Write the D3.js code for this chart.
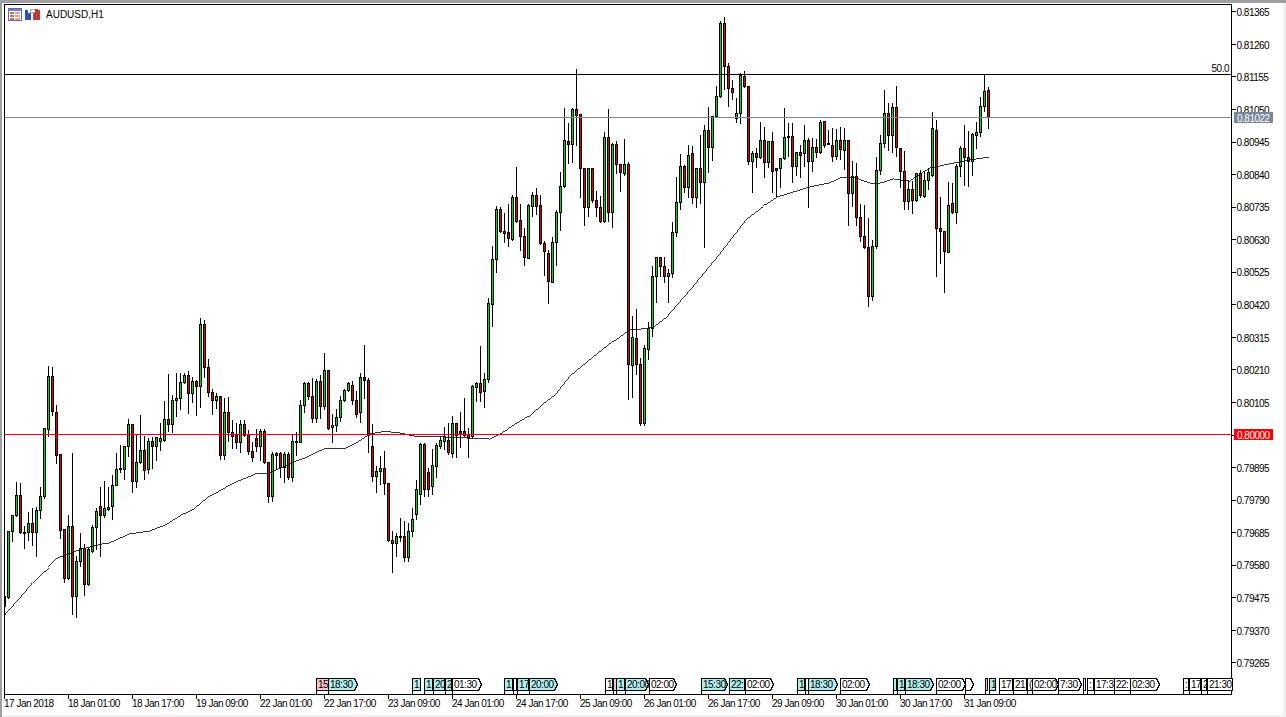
<!DOCTYPE html>
<html>
<head>
  <title>AUDUSD,H1</title>
  <script src="https://d3js.org/d3.v7.min.js"></script>
  <style>
    body { margin: 0; background: #fff; overflow: hidden; }
    text { font-family: "Liberation Sans", sans-serif; font-size: 10px; letter-spacing: -0.5px; fill: #000; }
  </style>
</head>
<body>
  <svg id="chart" width="1286" height="717"></svg>

  <script>
    // Hourly bars, prices in points (1/100000)
    const opens = [
      79445,79475,79688,79740,79804,79684,79684,79713,79684,79756,
      79801,80016,80187,80071,79935,79694,79535,79704,79477,79591,
      79632,79516,79623,79700,79769,79740,79758,79768,79836,79887,
      79888,79962,80032,79848,79910,79948,79887,79977,79962,79977,
      79982,80048,80033,80110,80116,80168,80191,80132,80171,80155,
      80355,80216,80135,80111,80123,79932,80071,80007,79997,79975,
      80032,80000,79945,79987,79962,80010,79910,79801,79939,79939,
      79894,79935,79861,79977,79975,80094,80165,80123,80052,80171,
      80090,80207,80023,80030,80055,80110,80142,80158,80110,80071,
      80184,80175,79961,79865,79882,79890,79842,79659,79648,79671,
      79671,79603,79687,79742,79806,79968,79877,79832,79898,79962,
      79978,79981,79939,80035,80010,80010,80000,79994,80152,80165,
      80140,80177,80419,80565,80726,80655,80652,80629,80765,80690,
      80639,80569,80736,80771,80739,80616,80584,80492,80619,80716,
      80801,80945,80936,81048,81032,80858,80732,80858,80756,80732,
      80687,80959,80716,80936,80871,80842,80871,80223,80310,80226,
      80035,80274,80342,80510,80571,80543,80511,80519,80652,80748,
      80865,80798,80906,80765,80858,80813,80981,80926,81027,81091,
      81328,81188,81116,81019,81035,81155,81124,80882,80906,80894,
      80948,80877,80945,80858,80858,80890,80958,80961,80865,80911,
      80906,80949,80881,80926,80910,81010,80939,80933,80898,80948,
      80917,80948,80777,80833,80700,80640,80604,80446,80607,80852,
      80939,81035,80965,81055,80924,80848,80752,80790,80756,80842,
      80768,80819,80835,80981,80665,80655,80589,80745,80716,80865,
      80923,80894,80882,80965,80974,81058,81111
    ];
    const highs = [
      79477,79690,79742,79848,79845,79707,79752,79765,79768,79832,
      80022,80223,80219,80097,79938,79697,79742,79942,79610,79684,
      79648,79635,79710,79765,79832,79852,79832,79871,79942,79968,
      79965,80052,80035,80000,80065,79997,79990,79994,79994,80039,
      80110,80197,80129,80200,80200,80200,80206,80187,80177,80377,
      80371,80245,80148,80135,80127,80119,80123,80048,80039,80048,
      80048,80016,79977,80019,80019,80019,79913,79946,79946,79946,
      79946,79946,80000,80010,80113,80172,80172,80184,80181,80194,
      80265,80210,80068,80084,80126,80148,80172,80174,80142,80200,
      80290,80184,80035,79900,79932,79948,79845,79690,79684,79732,
      79723,79717,79765,79855,79974,79974,79894,79955,79974,79997,
      80026,80039,80061,80040,80074,80119,80023,80161,80172,80287,
      80200,80442,80610,80739,80736,80717,80745,80774,80865,80745,
      80668,80745,80785,80797,80774,80626,80597,80639,80726,80848,
      81055,81006,81055,81181,81035,80861,80861,80861,80788,80771,
      80978,81052,80942,80948,80874,80955,80882,80384,80406,80248,
      80290,80365,80545,80575,80574,80575,80535,80688,80833,80906,
      80871,80935,80932,80862,80968,81000,81059,81030,81126,81335,
      81349,81201,81145,81087,81168,81174,81127,80916,80926,81010,
      80994,80948,80978,80861,80893,81055,81006,81007,80914,80935,
      81000,80958,80958,80955,81016,81013,80984,80990,80987,80995,
      80990,80951,80884,80877,80745,80742,80700,80629,80897,80968,
      81113,81071,81071,81126,80926,80916,80819,80819,80845,80855,
      80849,80861,81043,81016,80769,80658,80816,80813,80874,80932,
      81000,80981,80974,81011,81091,81165,81123
    ];
    const lows = [
      79445,79471,79655,79738,79681,79632,79658,79642,79606,79729,
      79794,79994,80061,79906,79665,79523,79532,79419,79410,79574,
      79481,79513,79620,79629,79606,79732,79756,79726,79835,79877,
      79855,79929,79813,79829,79907,79855,79874,79890,79916,79948,
      79980,80010,80006,80058,80081,80165,80068,80103,80061,80087,
      80184,80124,80065,80084,79919,79919,79978,79955,79955,79943,
      79994,79935,79914,79946,79917,79906,79782,79785,79887,79861,
      79845,79855,79849,79932,79974,80071,80113,80039,80039,80052,
      80081,80016,79974,80011,80043,80106,80139,80097,80055,80039,
      80116,79942,79849,79814,79839,79806,79656,79556,79607,79656,
      79591,79591,79671,79726,79774,79800,79800,79806,79861,79956,
      79952,79935,79926,79927,79958,79994,79927,79990,80107,80107,
      80088,80168,80349,80524,80652,80620,80607,80626,80685,80595,
      80546,80568,80704,80710,80613,80514,80423,80490,80546,80659,
      80799,80874,80877,80932,80765,80675,80704,80748,80704,80685,
      80684,80687,80669,80842,80785,80836,80113,80119,80194,80029,
      80029,80242,80316,80427,80511,80490,80427,80506,80640,80726,
      80781,80766,80745,80733,80745,80604,80845,80884,81023,81088,
      81113,81059,81081,81006,81003,81121,80871,80781,80861,80890,
      80829,80861,80782,80769,80797,80887,80898,80813,80836,80829,
      80865,80732,80849,80895,80907,80926,80935,80882,80887,80887,
      80855,80675,80736,80675,80624,80602,80414,80433,80600,80839,
      80926,80916,80910,80897,80797,80726,80726,80713,80753,80765,
      80765,80790,80832,80511,80552,80458,80587,80713,80681,80833,
      80804,80800,80835,80923,80962,81043,80987
    ];
    const closes = [
      79477,79688,79740,79804,79684,79683,79713,79684,79756,79801,
      80019,80187,80074,79932,79690,79535,79705,79477,79591,79632,
      79516,79629,79700,79753,79740,79761,79765,79836,79887,79890,
      79962,80032,79849,79910,79948,79885,79977,79962,79991,79987,
      80048,80033,80110,80116,80168,80191,80132,80171,80155,80355,
      80216,80135,80111,80123,79932,80071,80007,79995,79974,80032,
      79997,79945,79926,79962,80010,79910,79801,79935,79933,79894,
      79935,79861,79977,79975,80094,80165,80123,80052,80171,80090,
      80207,80019,80030,80055,80110,80142,80165,80111,80065,80184,
      80175,79997,79865,79882,79890,79842,79659,79648,79671,79669,
      79603,79687,79726,79823,79968,79823,79823,79900,79965,79981,
      79995,79943,80035,79997,80000,79997,79991,80155,80165,80136,
      80177,80423,80565,80726,80655,80650,80632,80765,80687,80640,
      80572,80739,80771,80735,80616,80590,80494,80619,80716,80801,
      80948,80936,81048,81030,80858,80732,80858,80756,80732,80687,
      80959,80716,80936,80871,80845,80871,80226,80313,80226,80035,
      80277,80342,80510,80571,80543,80510,80519,80652,80748,80865,
      80798,80901,80765,80858,80813,80981,80926,81027,81091,81328,
      81188,81116,81103,81035,81158,81124,80882,80906,80894,80948,
      80877,80945,80848,80853,80890,80958,80961,80865,80911,80901,
      80949,80881,80926,80910,81006,80933,80936,80898,80948,80919,
      80948,80777,80833,80700,80640,80604,80446,80607,80852,80939,
      81035,80965,81055,80926,80848,80752,80790,80756,80842,80771,
      80819,80845,80987,80665,80656,80590,80739,80716,80865,80923,
      80894,80882,80968,80974,81058,81107,81022
    ];

    // Moving average, read at these bars
    const maBars = [0,4,7,11,13,19,24,26,31,36,40,44,47,51,53,57,63,66,72,75,80,85,88,91,94,96,99,101,103,109,121,124,131,135,138,142,146,151,153,156,159,162,166,172,179,184,186,190,193,201,206,209,212,216,218,222,226,231,237,241,246];
    const maValues = [79419,79477,79523,79574,79603,79632,79648,79652,79681,79690,79710,79742,79761,79803,79816,79845,79877,79877,79913,79926,79958,79958,79977,80003,80010,80010,80006,80000,79994,79994,79987,80006,80061,80106,80135,80200,80242,80294,80310,80339,80342,80348,80387,80477,80587,80671,80703,80742,80768,80800,80813,80832,80832,80813,80810,80826,80819,80861,80877,80887,80897];

    const priceTicks = [81365,81260,81155,81050,80945,80840,80735,80630,80525,80420,80315,80210,80105,80000,79895,79790,79685,79580,79475,79370,79265];
    const timeTicks = [0,16,32,48,64,80,96,112,128,144,160,176,192,208,224,240];
    const timeLabels = ['17 Jan 2018','18 Jan 01:00','18 Jan 17:00','19 Jan 09:00','22 Jan 01:00','22 Jan 17:00','23 Jan 09:00','24 Jan 01:00','24 Jan 17:00','25 Jan 09:00','26 Jan 01:00','26 Jan 17:00','29 Jan 09:00','30 Jan 01:00','30 Jan 17:00','31 Jan 09:00'];

    const fiftyLevel = 81163;
    const bidLevel = 81022;
    const roundLevel = 80000;

    // Calendar events along the bottom, measured in bars
    const eventTexts = ['15','18:30','1','1','20','2','01:30','1','','17','20:00','1','','1','20:00','02:00','15:30','22:','02:00','1','','18:30','02:00','','1','','18:30','02:00','','1','17','21','(','02:00','7:30','',':','17:3','22:','02:30',':','17','2','21:30'];
    const eventFrom = [77.9,80.9,101.9,104.9,107,110,111.9,124.9,127.1,128.1,131,150,152,152.9,155,161.1,174,181,185.1,198,200.1,200.9,208.9,222,223.1,240,225,232.9,245,246,248.5,252,255.5,256.9,263.5,269.5,270.75,272.4,277.5,281.4,294.6,296.1,299.1,300.6];
    const eventTo = [80.9,88.1,103.9,106.9,109.9,111.6,119.1,126.9,127.9,130.9,138.1,151.9,152.75,154.8,160.9,167.9,180.6,184.9,192.1,199.9,200.9,208.1,216,222.75,224.9,242.1,232.1,240.1,245.6,247.6,251.8,255.3,256.75,263.4,269.1,270.1,272,277.4,281.25,288.6,295.9,298.9,300.4,306.8];
    const eventKinds = ['p','c','c','c','c','c','w','c','w','c','c','w','p','c','c','w','c','c','w','c','w','c','w','c','c','w','c','w','p','c','w','w','w','w','w','w','w','w','w','w','w','w','w','w'];
    const eventArrows = ['18:30','20:00','01:30','02:00','15:30','7:30','02:30'];

    const frame = { left: 4.5, right: 1231.5, top: 4.5, bottom: 694.5 };
    const kindColor = { p: '#ffc0cb', c: '#afeeee', w: '#ffffff' };

    const x = d3.scaleLinear().domain([0, 246]).range([4.5, 988.5]);
    const y = d3.scaleLinear().domain([79265, 81365]).range([662.85, 11.85]);
    const crisp = v => Math.floor(v - 0.2) + 0.5;

    const svg = d3.select('#chart');

    // window edges
    svg.append('rect').attr('width', 1286).attr('height', 717).attr('fill', '#f0f0f0');
    svg.append('rect').attr('x', 0).attr('y', 0).attr('width', 1286).attr('height', 3).attr('fill', '#a0a0a0');
    svg.append('rect').attr('x', 0).attr('y', 0).attr('width', 2).attr('height', 717).attr('fill', '#a0a0a0');
    svg.append('rect').attr('x', 2).attr('y', 3).attr('width', 1281).attr('height', 712).attr('fill', '#fff');

    const defs = svg.append('defs');
    defs.append('clipPath').attr('id', 'plot').append('rect')
      .attr('x', frame.left).attr('y', frame.top)
      .attr('width', frame.right - frame.left).attr('height', frame.bottom - frame.top);

    const plot = svg.append('g').attr('clip-path', 'url(#plot)').style('shape-rendering', 'crispEdges');

    // candles
    const bars = d3.range(opens.length);
    plot.selectAll('.wick').data(bars).enter().append('line')
      .attr('class', 'wick')
      .attr('x1', i => x(i)).attr('x2', i => x(i))
      .attr('y1', i => crisp(y(highs[i]))).attr('y2', i => crisp(y(lows[i])) + 0.5)
      .attr('stroke', '#000');
    plot.selectAll('.body').data(bars).enter().append('rect')
      .attr('class', 'body')
      .attr('x', i => x(i) - 1)
      .attr('width', 2)
      .attr('y', i => crisp(y(Math.max(opens[i], closes[i]))))
      .attr('height', i => crisp(y(Math.min(opens[i], closes[i]))) - crisp(y(Math.max(opens[i], closes[i]))))
      .attr('fill', i => closes[i] >= opens[i] ? '#00e000' : '#e80000')
      .attr('stroke', '#000');

    // moving average
    plot.append('path')
      .attr('d', d3.line().x((d, k) => x(maBars[k])).y(d => y(d))(maValues))
      .attr('fill', 'none').attr('stroke', '#000').attr('stroke-width', 0.8);

    // price levels
    const levels = [[fiftyLevel, '#000'], [bidLevel, '#778899'], [roundLevel, '#ff0000']];
    plot.selectAll('.level').data(levels).enter().append('line')
      .attr('class', 'level')
      .attr('x1', frame.left).attr('x2', frame.right)
      .attr('y1', d => crisp(y(d[0]))).attr('y2', d => crisp(y(d[0])))
      .attr('stroke', d => d[1]);

    svg.append('text').attr('x', 1229).attr('y', crisp(y(fiftyLevel)) - 3)
      .attr('text-anchor', 'end').text('50.0');

    // frame
    svg.append('rect')
      .attr('x', frame.left).attr('y', frame.top)
      .attr('width', frame.right - frame.left).attr('height', frame.bottom - frame.top)
      .attr('fill', 'none').attr('stroke', '#000').style('shape-rendering', 'crispEdges');

    // price axis
    const yAxis = svg.append('g')
      .attr('transform', `translate(${frame.right},0)`)
      .call(d3.axisRight(y).tickValues(priceTicks).tickSize(4).tickPadding(1).offset(0)
        .tickFormat(d => (d / 100000).toFixed(5)));
    yAxis.select('.domain').remove();
    yAxis.selectAll('line').attr('stroke', '#000').style('shape-rendering', 'crispEdges');
    yAxis.selectAll('text').attr('fill', null).attr('dy', '0.42em');

    // time axis
    const xAxis = svg.append('g')
      .attr('transform', `translate(0,${frame.bottom})`)
      .call(d3.axisBottom(x).tickValues(timeTicks).tickSize(4).offset(0)
        .tickFormat((d, i) => timeLabels[i]));
    xAxis.select('.domain').remove();
    xAxis.selectAll('line').attr('stroke', '#000').style('shape-rendering', 'crispEdges');
    xAxis.selectAll('text').attr('text-anchor', 'start').attr('x', -0.5).attr('y', 12).attr('dy', 0).attr('fill', null);

    // level tags on the price axis
    const tags = [[bidLevel, '#778899'], [roundLevel, '#ff0000']];
    const tag = svg.selectAll('.tag').data(tags).enter().append('g').attr('class', 'tag');
    tag.append('rect')
      .attr('x', 1234).attr('width', 39).attr('height', 11)
      .attr('y', d => crisp(y(d[0])) - 5.5)
      .attr('fill', d => d[1]);
    tag.append('text')
      .attr('x', 1237).attr('y', d => crisp(y(d[0])) + 4)
      .style('fill', '#fff')
      .text(d => (d[0] / 100000).toFixed(5));

    // calendar event flags
    const boxTop = 678.5, boxBottom = 690.5;
    const events = eventTexts.map((t, k) => k);
    const flag = svg.selectAll('.flag').data(events).enter().append('g').attr('class', 'flag');
    flag.append('path')
      .attr('d', k => {
        const a = Math.round(x(eventFrom[k])) + 0.5, b = Math.round(x(eventTo[k])) + 0.5;
        const mid = (boxTop + boxBottom) / 2;
        if (eventArrows.includes(eventTexts[k]) || (eventTexts[k] === '' && eventTo[k] - eventFrom[k] > 2))
          return `M${a},${boxTop}H${b - 3}L${b},${mid}L${b - 3},${boxBottom}H${a}Z`;
        return `M${a},${boxTop}H${b}V${boxBottom}H${a}Z`;
      })
      .attr('fill', k => kindColor[eventKinds[k]])
      .attr('stroke', '#000')
      .style('shape-rendering', 'crispEdges');
    flag.append('line')
      .attr('x1', k => Math.round(x(eventFrom[k])) + 0.5)
      .attr('x2', k => Math.round(x(eventFrom[k])) + 0.5)
      .attr('y1', boxBottom).attr('y2', frame.bottom)
      .attr('stroke', '#000').style('shape-rendering', 'crispEdges');
    flag.append('text')
      .attr('x', k => Math.round(x(eventFrom[k])) + 2)
      .attr('y', 688)
      .text(k => eventTexts[k]);

    // toolbar icons and symbol caption
    const icons = svg.append('g').style('shape-rendering', 'crispEdges');
    icons.append('rect').attr('x', 8.5).attr('y', 8.5).attr('width', 13).attr('height', 12).attr('fill', '#fff').attr('stroke', '#5a6fb0');
    icons.append('rect').attr('x', 9).attr('y', 9).attr('width', 12).attr('height', 2).attr('fill', '#6a80d0');
    d3.range(3).forEach(k => {
      icons.append('rect').attr('x', 10).attr('y', 12 + k * 3).attr('width', 4).attr('height', 2).attr('fill', '#e06050');
      icons.append('rect').attr('x', 15).attr('y', 12 + k * 3).attr('width', 5).attr('height', 2).attr('fill', '#e8a090');
    });
    icons.append('path').attr('d', 'M25,10H28V13H31V20H25Z').attr('fill', '#2a4fc0');
    icons.append('path').attr('d', 'M33,13H35V9H38V10H40V20H33Z').attr('fill', '#c03a3a');
    icons.append('rect').attr('x', 30).attr('y', 9).attr('width', 5).attr('height', 3).attr('fill', '#fff').attr('stroke', '#555').attr('stroke-width', 0.5);

    svg.append('text').attr('x', 46).attr('y', 18).style('letter-spacing', '0').text('AUDUSD,H1');
  </script>
</body>
</html>
